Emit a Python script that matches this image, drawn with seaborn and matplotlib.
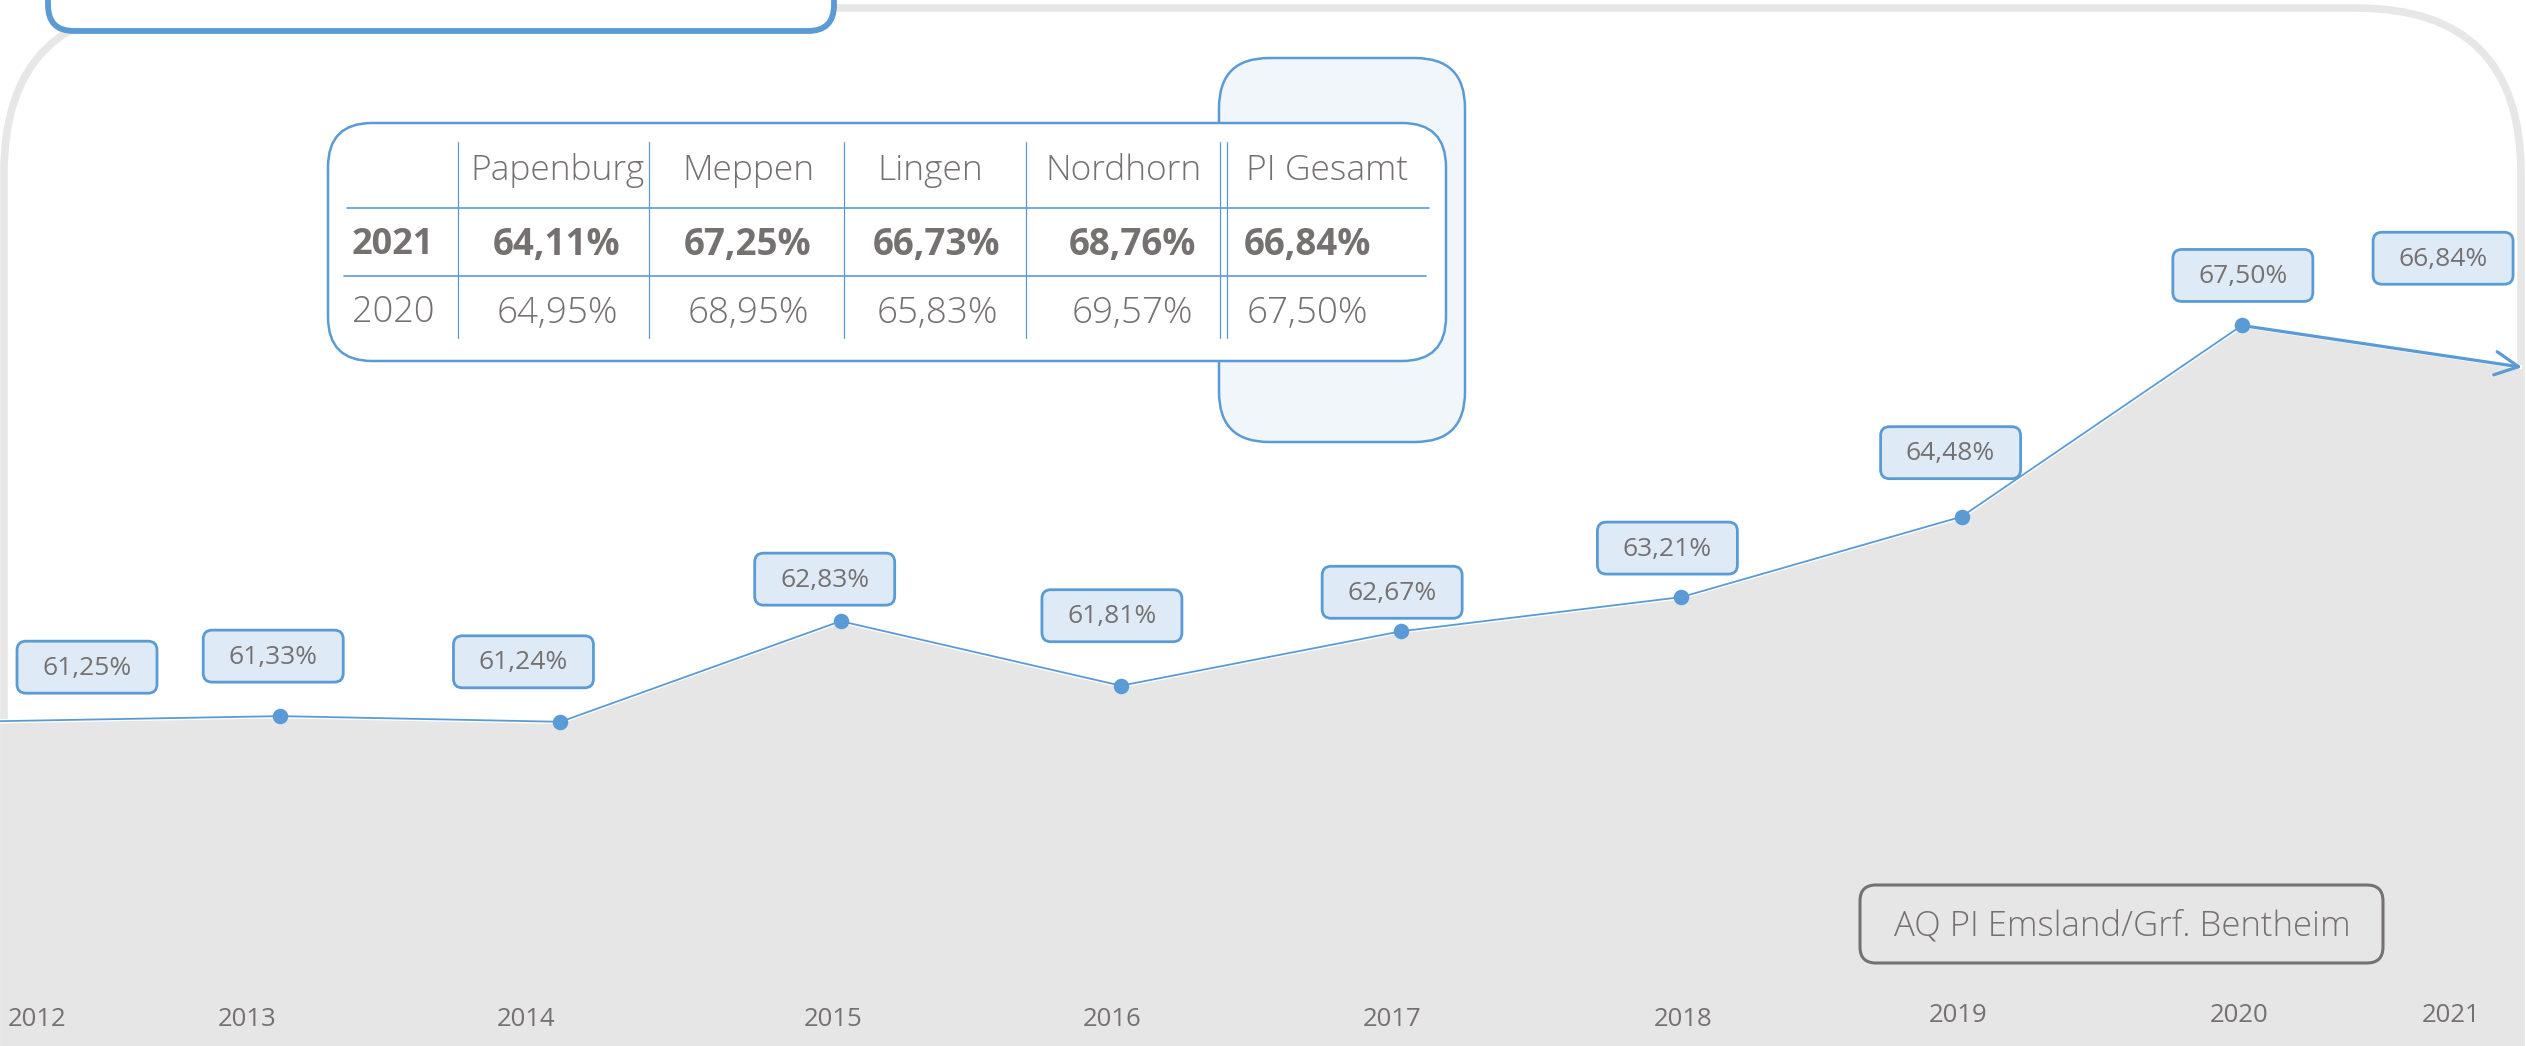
import numpy as np
import pandas as pd
import matplotlib
matplotlib.use("Agg")
import matplotlib.pyplot as plt
import matplotlib.transforms as mtransforms
from matplotlib.patches import FancyBboxPatch
import seaborn as sns

# ---------------- data ----------------
years = [2012, 2013, 2014, 2015, 2016, 2017, 2018, 2019, 2020, 2021]
quota = [61.25, 61.33, 61.24, 62.83, 61.81, 62.67, 63.21, 64.48, 67.50, 66.84]

table_columns = ["Papenburg", "Meppen", "Lingen", "Nordhorn", "PI Gesamt"]
table_rows = ["2021", "2020"]
table_2021 = [64.11, 67.25, 66.73, 68.76, 66.84]
table_2020 = [64.95, 68.95, 65.83, 69.57, 67.50]

source_label = "AQ PI Emsland/Grf. Bentheim"

# ---------------- style ----------------
W, H = 2526, 1046
BLUE = "#5b9bd5"
LIGHT_BLUE = "#deebf7"
HILITE = "#f1f6fb"
GREY_FILL = "#e6e6e6"
FRAME = "#e7e7e7"
TXT = "#767171"

sns.set_theme(style="white")
plt.rcParams["font.family"] = ["Open Sans", "DejaVu Sans"]

def fmt(v):
    return f"{v:.2f}".replace(".", ",") + "%"

df = pd.DataFrame({"year": years, "quota": quota})

fig = plt.figure(figsize=(W / 100, H / 100), dpi=100, facecolor="white")
ax = fig.add_axes([0, 0, 1, 1])
ax.set_facecolor("white")
ax.axis("off")

# pixel transform (x right, y down, origin top-left of the picture)
PX = mtransforms.Affine2D().scale(1, -1).translate(0, H)

def rbox(x0, y0, x1, y1, r, fc, ec, lw, z):
    p = FancyBboxPatch((x0, y0), x1 - x0, y1 - y0,
                       boxstyle=f"round,pad=0,rounding_size={r}",
                       transform=PX, fc=fc, ec=ec, lw=lw, zorder=z, clip_on=False)
    ax.add_patch(p)

# ---------------- chart ----------------
ymin = 56.12
ax.fill_between(df["year"], df["quota"], ymin - 5, color=GREY_FILL, lw=0, zorder=2)
ax.plot(df["year"], df["quota"], color="white", lw=3.2, zorder=3, solid_capstyle="butt")
first = df.iloc[:9]
sns.lineplot(data=first, x="year", y="quota", ax=ax, color=BLUE, lw=1.3, zorder=4)
sns.scatterplot(data=df.iloc[1:9], x="year", y="quota", ax=ax, s=125,
                color=BLUE, edgecolor=BLUE, linewidth=0, zorder=5)
ax.annotate("", xy=(years[-1], quota[-1]), xytext=(years[-2], quota[-2]),
            arrowprops=dict(arrowstyle="->,head_length=1.4,head_width=0.7",
                            color=BLUE, lw=2.3, shrinkA=0, shrinkB=0),
            zorder=5)

ax.set_xlim(2012, 2021.014)
ax.set_ylim(ymin, 72.64)
ax.axis("off")

# value labels (offsets in pixels relative to each point)
label_offsets = [(87, -54), (-7, -60), (-37, -60), (-16, -42), (-9, -70),
                 (-9, -39), (-14, -49), (-11, -64), (1, -50), (-79, -109)]
fig.canvas.draw()
for yr, v, (dx, dy) in zip(years, quota, label_offsets):
    px, py = ax.transData.transform((yr, v))
    cx = px + dx
    cy = (H - py) + dy
    rbox(cx - 70, cy - 26, cx + 70, cy + 26, 9, LIGHT_BLUE, BLUE, 2.0, 8)
    ax.text(cx, cy + 1, fmt(v), transform=PX, ha="center", va="center",
            fontsize=19, color=TXT, zorder=9)

# year labels (x offsets in pixels relative to each year position)
year_dx = [0, -33, -34, -8, -9, -9, 2, -4, -3, 0]
for i, yr in enumerate(years):
    ypos = 1020 if yr <= 2018 else 1015
    if i == 0:
        px = 8; ha = "left"
    elif i == len(years) - 1:
        px = 2480; ha = "right"
    else:
        px = ax.transData.transform((yr, quota[i]))[0] + year_dx[i]
        ha = "center"
    ax.text(px, ypos, str(yr), transform=PX, ha=ha, va="center",
            fontsize=18.5, color=TXT, zorder=9)

# ---------------- decorations ----------------
# big grey frame
rbox(4, 8, 2521, 1400, 165, "none", FRAME, 5.5, 1)
# title box at top-left (cut off)
rbox(48, -80, 834, 31, 26, "white", BLUE, 4.2, 10)
# highlight of total column
rbox(1219, 58, 1465, 442, 50, HILITE, BLUE, 1.8, 10)
# table box
rbox(328, 123, 1446, 361, 44, "white", BLUE, 1.8, 11)

for xv in [458, 649, 844, 1026, 1220, 1227]:
    ax.plot([xv, xv], [142, 338], color=BLUE, lw=0.9, transform=PX, zorder=12)
ax.plot([347, 1429], [208, 208], color=BLUE, lw=1.2, transform=PX, zorder=12)
ax.plot([344, 1426], [276, 276], color=BLUE, lw=1.2, transform=PX, zorder=12)

header_x = [557, 748, 930, 1123, 1327]
value_x = [557, 748, 937, 1132, 1307]
row_y = [245, 313]
for hx, name in zip(header_x, table_columns):
    ax.text(hx, 171, name, transform=PX, ha="center", va="center",
            fontsize=25.5, fontweight="light", color=TXT, zorder=13)
ax.text(393, row_y[0], table_rows[0], transform=PX, ha="center", va="center",
        fontsize=26, fontweight="bold", color=TXT, zorder=13)
ax.text(393, row_y[1], table_rows[1], transform=PX, ha="center", va="center",
        fontsize=26, fontweight="light", color=TXT, zorder=13)
for vx, a, b in zip(value_x, table_2021, table_2020):
    ax.text(vx, row_y[0], fmt(a), transform=PX, ha="center", va="center",
            fontsize=26.5, fontweight="bold", color=TXT, zorder=13)
    ax.text(vx, row_y[1], fmt(b), transform=PX, ha="center", va="center",
            fontsize=26.5, fontweight="light", color=TXT, zorder=13)

# source box
rbox(1860, 885, 2383, 963, 16, "none", TXT, 2.2, 13)
ax.text(2122, 926, source_label, transform=PX, ha="center", va="center",
        fontsize=25, fontweight="light", color=TXT, zorder=14)

fig.savefig("out.png", dpi=100, facecolor="white")
